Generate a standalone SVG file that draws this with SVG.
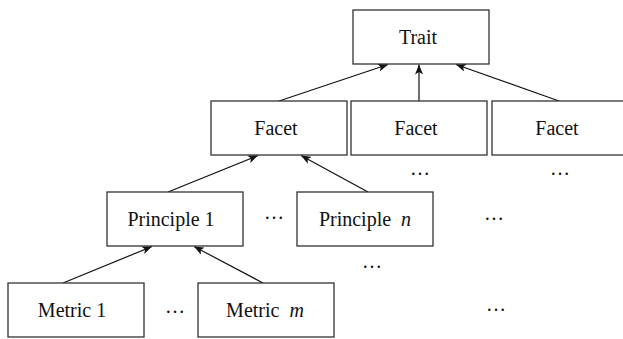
<svg xmlns="http://www.w3.org/2000/svg" width="623" height="339" viewBox="0 0 623 339">
  <style>
    .box { fill: #ffffff; stroke: #333333; stroke-width: 1.3; }
    .lbl { font-family: "Liberation Serif", "Times New Roman", serif; font-size: 20px; fill: #111111; text-anchor: middle; }
    .dots { font-family: "Liberation Serif", "Times New Roman", serif; font-size: 20px; fill: #111111; text-anchor: middle; }
    .edge { stroke: #111111; stroke-width: 1.2; fill: none; marker-end: url(#arrow); }
  </style>
  <defs>
    <marker id="arrow" viewBox="0 0 10 8" refX="10" refY="4" markerWidth="10" markerHeight="8" markerUnits="userSpaceOnUse" orient="auto">
      <path d="M0,0 L10,4 L0,8 L2.5,4 Z" fill="#111111"/>
    </marker>
  </defs>
  <rect width="623" height="339" fill="#ffffff"/>

  <!-- connectors -->
  <g id="connectors">
    <line class="edge" x1="279" y1="101" x2="388" y2="64.5"/>
    <line class="edge" x1="419" y1="101" x2="419" y2="64.5"/>
    <line class="edge" x1="559" y1="101" x2="456" y2="64.5"/>
    <line class="edge" x1="168" y1="192" x2="258" y2="155.5"/>
    <line class="edge" x1="368" y1="192" x2="301" y2="155.5"/>
    <line class="edge" x1="63" y1="283" x2="152" y2="246.5"/>
    <line class="edge" x1="263" y1="283" x2="194" y2="246.5"/>
  </g>

  <!-- level 0 -->
  <g id="trait">
    <rect class="box" x="353" y="10" width="136" height="54"/>
    <text class="lbl" x="418" y="43.5">Trait</text>
  </g>

  <!-- level 1 -->
  <g id="facet-1">
    <rect class="box" x="211" y="101" width="136" height="54"/>
    <text class="lbl" x="276" y="134.5">Facet</text>
  </g>
  <g id="facet-2">
    <rect class="box" x="351" y="101" width="136" height="54"/>
    <text class="lbl" x="416" y="134.5">Facet</text>
  </g>
  <g id="facet-3">
    <rect class="box" x="492" y="101" width="136" height="54"/>
    <text class="lbl" x="557" y="134.5">Facet</text>
  </g>

  <!-- level 2 -->
  <g id="principle-1">
    <rect class="box" x="107" y="192" width="136" height="54"/>
    <text class="lbl" x="171" y="225.5">Principle 1</text>
  </g>
  <g id="principle-n">
    <rect class="box" x="297" y="192" width="136" height="54"/>
    <text class="lbl" x="365" y="225.5" xml:space="preserve">Principle  <tspan font-style="italic">n</tspan></text>
  </g>

  <!-- level 3 -->
  <g id="metric-1">
    <rect class="box" x="8" y="283" width="136" height="54"/>
    <text class="lbl" x="72" y="316.5">Metric 1</text>
  </g>
  <g id="metric-m">
    <rect class="box" x="198" y="283" width="136" height="54"/>
    <text class="lbl" x="265" y="316.5" xml:space="preserve">Metric  <tspan font-style="italic">m</tspan></text>
  </g>

  <!-- ellipses -->
  <g id="ellipses">
    <text class="dots" x="420" y="175">…</text>
    <text class="dots" x="560" y="175">…</text>
    <text class="dots" x="274" y="219">…</text>
    <text class="dots" x="494" y="220">…</text>
    <text class="dots" x="372" y="268">…</text>
    <text class="dots" x="496" y="311">…</text>
    <text class="dots" x="175" y="313">…</text>
  </g>
</svg>
